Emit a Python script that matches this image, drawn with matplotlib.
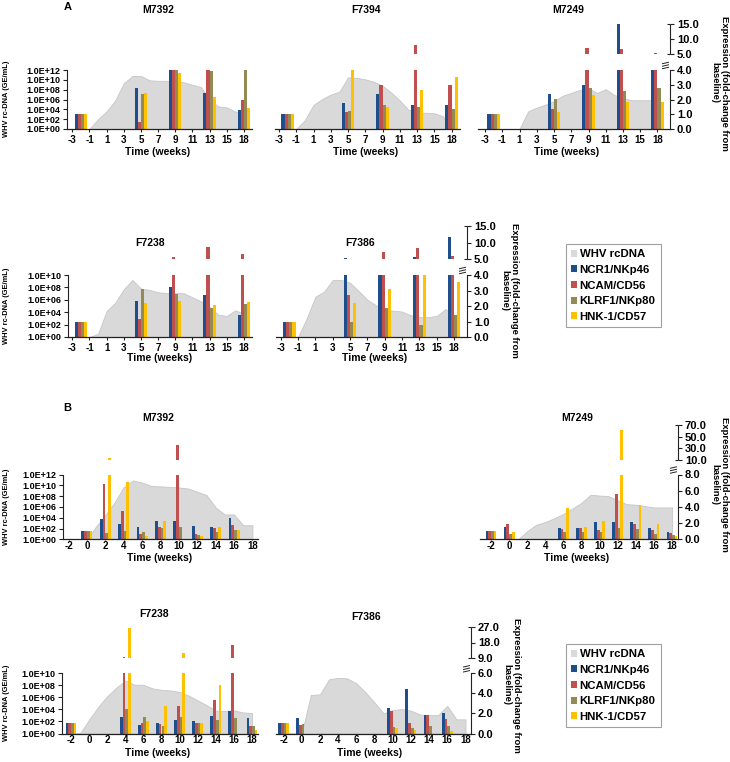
import matplotlib
matplotlib.use('Agg')
import matplotlib.pyplot as plt
from matplotlib.patches import Patch
from matplotlib.lines import Line2D
import numpy as np

plt.rcParams['font.family'] = ['Liberation Sans', 'DejaVu Sans']
plt.rcParams['font.weight'] = 'bold'

W, H = 730, 762
fig = plt.figure(figsize=(W / 100, H / 100), dpi=100)

# ---------------- colours ----------------
C_AREA = '#d9d9d9'
C_AREA_EDGE = '#c6c6c6'
C_NCR1 = '#1f4e8c'
C_NCAM = '#c0504d'
C_KLRF1 = '#948a54'
C_HNK1 = '#ffc000'
AX_COL = '#222222'

legend_labels = ['WHV rcDNA', 'NCR1/NKp46', 'NCAM/CD56', 'KLRF1/NKp80', 'HNK-1/CD57']

# ---------------- categories ----------------
cats_A = [-3, -2, -1, 0, 1, 2, 3, 4, 5, 6, 7, 8, 9, 10, 11, 12, 13, 14, 15, 16, 18]
cats_B = list(range(-2, 19))

# ---------------- Panel A data ----------------
# WHV rcDNA (log10 GE/mL) per category
A_M7392_rc = [0, 0, 0, 2.0, 3.6, 5.8, 9.3, 10.75, 10.8, 9.9, 9.8, 9.8, 9.7, 9.5, 9.0, 8.5, 6.0, 4.6, 4.4, 3.5, 3.0]
A_F7394_rc = [0, 0, 0, 1.8, 4.9, 6.1, 7.0, 7.6, 10.5, 10.4, 10.1, 9.6, 8.8, 7.4, 5.8, 3.9, 3.4, 3.3, 3.2, 2.6, 0]
A_M7249_rc = [0, 0, 0, 0, 0, 3.6, 4.35, 4.95, 5.7, 6.75, 7.35, 7.95, 8.25, 7.35, 8.1, 6.9, 6.3, 5.85, 5.85, 5.85, 5.85]
A_F7238_rc = [0, 0, 0, 0.5, 4.2, 5.5, 7.7, 9.2, 7.8, 7.6, 7.2, 7.1, 7.07, 7.05, 6.4, 5.75, 4.85, 3.6, 3.4, 4.3, 3.75]
A_F7386_rc = [0, 0, 0, 3.0, 6.5, 7.3, 9.2, 9.2, 8.75, 7.4, 6.0, 5.1, 4.3, 4.25, 4.1, 3.5, 3.2, 3.2, 3.4, 4.5, 3.5]

A_weeks = [-2, 5, 9, 13, 18]

A_M7392_NCR1 = [1.0, 2.8, 4.0, 2.45, 1.3]
A_M7392_NCAM = [1.0, 0.5, 4.0, 4.0, 2.0]
A_M7392_KLRF1 = [1.0, 2.35, 4.0, 3.9, 4.0]
A_M7392_HNK1 = [1.0, 2.45, 3.8, 2.15, 1.4]

A_F7394_NCR1 = [1.0, 1.75, 2.35, 1.65, 1.65]
A_F7394_NCAM = [1.0, 1.15, 2.95, 8.0, 3.0]
A_F7394_KLRF1 = [1.0, 1.25, 1.65, 1.5, 1.35]
A_F7394_HNK1 = [1.0, 4.0, 1.5, 2.65, 3.55]

A_M7249_NCR1 = [1.0, 2.4, 2.95, 15.0, 4.0]
A_M7249_NCAM = [1.0, 1.35, 7.2, 6.7, 5.5]
A_M7249_KLRF1 = [1.0, 2.05, 2.8, 2.55, 2.8]
A_M7249_HNK1 = [1.0, 1.15, 2.3, 1.85, 1.85]

A_F7238_NCR1 = [1.0, 2.3, 3.25, 2.7, 1.45]
A_F7238_NCAM = [1.0, 1.15, 5.8, 8.8, 6.6]
A_F7238_KLRF1 = [1.0, 3.1, 2.75, 1.85, 2.1]
A_F7238_HNK1 = [1.0, 2.2, 2.35, 2.05, 2.25]

A_F7386_NCR1 = [1.0, 5.4, 4.0, 5.6, 11.6]
A_F7386_NCAM = [1.0, 2.7, 7.3, 8.5, 6.0]
A_F7386_KLRF1 = [1.0, 1.0, 1.85, 0.75, 1.45]
A_F7386_HNK1 = [1.0, 2.2, 3.1, 4.0, 3.55]

# ---------------- Panel B data ----------------
B_M7392_rc = [0, 0, 0, 2.4, 4.5, 6.8, 9.7, 10.9, 10.5, 9.9, 9.8, 9.7, 9.6, 9.4, 8.8, 8.2, 5.9, 4.6, 4.6, 2.6, 2.6]
B_M7249_rc = [0, 0, 0, 0, 1.5, 2.7, 3.2, 3.9, 4.7, 5.7, 6.75, 8.25, 8.1, 8.0, 7.2, 6.5, 6.4, 6.15, 5.9, 5.9, 5.9]
B_F7238_rc = [0, 0, 2.3, 4.4, 6.2, 7.6, 8.8, 8.1, 8.1, 7.5, 7.25, 7.15, 6.9, 6.3, 5.5, 4.7, 3.8, 3.75, 3.85, 3.5, 3.4]
B_F7386_rc = [0, 0, 0, 6.4, 6.5, 9.0, 9.25, 9.15, 8.35, 6.85, 5.15, 3.35, 3.9, 4.05, 3.8, 3.15, 3.05, 3.05, 4.6, 2.35, 2.35]

B_M7392_weeks = [0, 2, 4, 6, 8, 10, 12, 14, 16]
B_M7392_NCR1 = [1.0, 2.45, 1.9, 1.5, 2.25, 2.25, 1.7, 1.55, 2.65]
B_M7392_NCAM = [1.0, 6.8, 3.5, 0.7, 1.5, 36.0, 0.7, 1.4, 1.75]
B_M7392_KLRF1 = [1.0, 0.75, 1.0, 0.9, 1.4, 1.55, 0.55, 0.95, 1.1]
B_M7392_HNK1 = [1.0, 13.0, 7.1, 0.4, 2.25, 0.0, 0.4, 1.5, 1.1]

B_M7249_weeks = [-2, 0, 6, 8, 10, 12, 14, 16, 18]
B_M7249_NCR1 = [1.0, 1.55, 1.45, 1.35, 2.15, 2.15, 2.15, 1.45, 0.85]
B_M7249_NCAM = [1.0, 1.85, 1.3, 1.45, 1.1, 5.65, 1.85, 1.1, 0.75]
B_M7249_KLRF1 = [1.0, 0.6, 0.85, 0.95, 0.95, 1.45, 1.25, 0.7, 0.55]
B_M7249_HNK1 = [1.0, 0.95, 3.9, 1.55, 2.3, 62.0, 4.25, 1.85, 0.4]

B_F7238_weeks = [-2, 4, 6, 8, 10, 12, 14, 16, 18]
B_F7238_NCR1 = [1.0, 1.6, 0.85, 1.05, 1.35, 1.2, 1.75, 2.25, 1.5]
B_F7238_NCAM = [1.0, 9.9, 1.05, 0.95, 2.7, 1.05, 3.35, 16.6, 0.7]
B_F7238_KLRF1 = [1.0, 2.45, 1.6, 0.7, 1.6, 1.05, 1.35, 1.5, 0.7]
B_F7238_HNK1 = [1.0, 26.0, 1.2, 2.7, 11.9, 1.05, 4.8, 0.0, 0.35]

B_F7386_weeks = [-2, 0, 10, 12, 14, 16]
B_F7386_NCR1 = [1.0, 1.55, 2.55, 4.4, 1.85, 2.05]
B_F7386_NCAM = [1.0, 0.85, 2.25, 1.05, 1.85, 1.45]
B_F7386_KLRF1 = [1.0, 0.95, 0.65, 0.5, 0.75, 0.75]
B_F7386_HNK1 = [1.0, 0.0, 0.5, 0.35, 0.0, 0.25]

# ---------------- row layouts (pixels) ----------------
ROW_A1 = dict(base=129, ltop=70, L=4, U0=5, Umax=15, p0=54.3, p1=24, logmax=12, top=16,
              low_ticks=[0, 1, 2, 3, 4], up_ticks=[5, 10, 15], xtl=2.5, xpad=1.5)
ROW_A2 = dict(base=337, ltop=275, L=4, U0=5, Umax=15, p0=259.3, p1=226, logmax=10, top=220,
              low_ticks=[0, 1, 2, 3, 4], up_ticks=[5, 10, 15], xtl=2.5, xpad=1.5)
ROW_B1 = dict(base=539.3, ltop=474.5, L=8, U0=10, Umax=70, p0=460, p1=425, logmax=12, top=420,
              low_ticks=[0, 2, 4, 6, 8], up_ticks=[10, 30, 50, 70], xtl=1.0, xpad=0.3)
ROW_B2 = dict(base=733.5, ltop=673.3, L=6, U0=9, Umax=27, p0=658.3, p1=626.7, logmax=10, top=620,
              low_ticks=[0, 2, 4, 6], up_ticks=[9, 18, 27], xtl=1.0, xpad=0.3)

COLORS = [C_NCR1, C_NCAM, C_KLRF1, C_HNK1]


def fig_line(xs, ys, lw=0.8, color=AX_COL):
    fig.add_artist(Line2D([x / W for x in xs], [1 - y / H for y in ys], lw=lw,
                          color=color, transform=fig.transFigure, solid_capstyle='butt'))


def make_panel(row, xl, xr, i0, sp, cats, rc, weeks, series, show_left, show_right, bw):
    base, ltop, L = row['base'], row['ltop'], row['L']
    U0, Umax, p0, p1 = row['U0'], row['Umax'], row['p0'], row['p1']
    k = (base - ltop) / L
    g = (ltop - p0) / k
    s = (p0 - p1) / (Umax - U0) / k

    def u(v):
        return v if v <= L else L + g + (v - U0) * s

    ytop = (base - row['top']) / k
    rect = [xl / W, 1 - base / H, (xr - xl) / W, (base - row['top']) / H]
    ax_a = fig.add_axes(rect)
    ax = fig.add_axes(rect)
    for a in (ax_a, ax):
        a.patch.set_visible(False)
        a.set_xlim((xl - i0) / sp, (xr - i0) / sp)
        for sname in ('top', 'right', 'left', 'bottom'):
            a.spines[sname].set_visible(False)

    # --- area (log scale) ---
    ax_a.set_yscale('log')
    ax_a.set_ylim(1, 10 ** (row['logmax'] * ytop / L))
    x = np.arange(len(cats))
    ax_a.fill_between(x, 1, 10 ** np.array(rc, dtype=float), facecolor=C_AREA,
                      edgecolor=C_AREA_EDGE, lw=0.6)
    ax_a.tick_params(axis='x', bottom=False, labelbottom=False)
    ax_a.minorticks_off()
    if show_left:
        ax_a.spines['left'].set_visible(True)
        ax_a.spines['left'].set_bounds(1, 10 ** row['logmax'])
        ax_a.spines['left'].set_color(AX_COL)
        ax_a.spines['left'].set_linewidth(0.8)
        ex = list(range(0, row['logmax'] + 1, 2))
        ax_a.set_yticks([10.0 ** e for e in ex])
        ax_a.set_yticklabels(['1.0E+%02d' % e for e in ex])
        ax_a.tick_params(axis='y', which='major', direction='out', length=3, width=0.8,
                         color=AX_COL, labelsize=6.5, pad=1.5)
        ax_a.tick_params(axis='y', which='minor', left=False)
    else:
        ax_a.tick_params(axis='y', which='both', left=False, labelleft=False)

    # --- bars ---
    ax.set_ylim(0, ytop)
    for j, (vals, col) in enumerate(zip(series, COLORS)):
        pos = [cats.index(w) + (j - 1.5) * bw for w in weeks]
        low = [min(v, L) for v in vals]
        ax.bar(pos, low, width=bw, color=col, lw=0)
        up_pos = [p for p, v in zip(pos, vals) if v > U0]
        up_h = [u(v) - u(U0) for v in vals if v > U0]
        up_b = [u(U0)] * len(up_h)
        if up_pos:
            ax.bar(up_pos, up_h, bottom=up_b, width=bw, color=col, lw=0)

    ax.spines['bottom'].set_visible(True)
    ax.spines['bottom'].set_color(AX_COL)
    ax.spines['bottom'].set_linewidth(0.9)
    ax.set_xticks(range(0, len(cats), 2))
    ax.set_xticklabels([str(c) for c in cats[::2]])
    ax.tick_params(axis='x', direction='out', length=row['xtl'], width=0.8, color=AX_COL,
                   labelsize=7, pad=row['xpad'])

    if show_right:
        ax.yaxis.tick_right()
        ax.spines['right'].set_visible(True)
        ax.spines['right'].set_bounds(0, L)
        ax.spines['right'].set_color(AX_COL)
        ax.spines['right'].set_linewidth(0.8)
        tv = row['low_ticks'] + row['up_ticks']
        ax.set_yticks([u(v) for v in tv])
        ax.set_yticklabels(['%.1f' % v for v in tv])
        ax.tick_params(axis='y', direction='out', length=3, width=0.8, color=AX_COL,
                       labelsize=8, pad=2)
        # upper bracket
        fig_line([xr, xr], [p0, p1])
        fig_line([xr - 3, xr], [p0, p0])
        fig_line([xr - 3, xr], [p1, p1])
        # break mark
        for d in (2.0, 4.5, 7.0):
            fig_line([xr - 8, xr - 1], [ltop - d + 0.8, ltop - d - 0.8], lw=0.7)
    else:
        ax.tick_params(axis='y', which='both', left=False, right=False,
                       labelleft=False, labelright=False)
    return ax


# ---------------- Panel A, row 1 ----------------
make_panel(ROW_A1, 67, 252, 72.3, 8.58, cats_A, A_M7392_rc, A_weeks,
           [A_M7392_NCR1, A_M7392_NCAM, A_M7392_KLRF1, A_M7392_HNK1], True, False, 0.36)
make_panel(ROW_A1, 275, 460, 279, 8.63, cats_A, A_F7394_rc, A_weeks,
           [A_F7394_NCR1, A_F7394_NCAM, A_F7394_KLRF1, A_F7394_HNK1], False, False, 0.36)
make_panel(ROW_A1, 478, 670, 485, 8.625, cats_A, A_M7249_rc, A_weeks,
           [A_M7249_NCR1, A_M7249_NCAM, A_M7249_KLRF1, A_M7249_HNK1], False, True, 0.36)
# ---------------- Panel A, row 2 ----------------
make_panel(ROW_A2, 68, 252, 72.3, 8.58, cats_A, A_F7238_rc, A_weeks,
           [A_F7238_NCR1, A_F7238_NCAM, A_F7238_KLRF1, A_F7238_HNK1], True, False, 0.36)
make_panel(ROW_A2, 276, 467, 280.7, 8.67, cats_A, A_F7386_rc, A_weeks,
           [A_F7386_NCR1, A_F7386_NCAM, A_F7386_KLRF1, A_F7386_HNK1], False, True, 0.36)
# ---------------- Panel B, row 1 ----------------
make_panel(ROW_B1, 63, 258, 68.6, 9.19, cats_B, B_M7392_rc, B_M7392_weeks,
           [B_M7392_NCR1, B_M7392_NCAM, B_M7392_KLRF1, B_M7392_HNK1], True, False, 0.3)
make_panel(ROW_B1, 480, 678, 491, 9.05, cats_B, B_M7249_rc, B_M7249_weeks,
           [B_M7249_NCR1, B_M7249_NCAM, B_M7249_KLRF1, B_M7249_HNK1], False, True, 0.3)
# ---------------- Panel B, row 2 ----------------
make_panel(ROW_B2, 62, 258, 71, 9.05, cats_B, B_F7238_rc, B_F7238_weeks,
           [B_F7238_NCR1, B_F7238_NCAM, B_F7238_KLRF1, B_F7238_HNK1], True, False, 0.3)
make_panel(ROW_B2, 276, 471, 283.5, 9.1, cats_B, B_F7386_rc, B_F7386_weeks,
           [B_F7386_NCR1, B_F7386_NCAM, B_F7386_KLRF1, B_F7386_HNK1], False, True, 0.3)


def ftext(x, y, s, **kw):
    fig.text(x / W, 1 - y / H, s, **kw)


# titles
for (x, y, s) in [(158, 10, 'M7392'), (366, 10, 'F7394'), (568, 10, 'M7249'),
                  (150, 243, 'F7238'), (360, 243, 'F7386'),
                  (158, 418, 'M7392'), (577, 418, 'M7249'),
                  (154, 614, 'F7238'), (366, 617, 'F7386')]:
    ftext(x, y, s, ha='center', va='center', fontsize=7.5, fontweight='bold')

# x-axis titles
for (x, y) in [(158, 152), (366, 152), (567, 152), (160, 358), (375, 358),
               (160, 558), (577, 558), (158, 753), (370, 753)]:
    ftext(x, y, 'Time (weeks)', ha='center', va='center', fontsize=7.5, fontweight='bold')

# panel letters
ftext(68, 7, 'A', ha='center', va='center', fontsize=8, fontweight='bold')
ftext(67, 408, 'B', ha='center', va='center', fontsize=8, fontweight='bold')

# left axis titles
for y in (99, 306, 507, 703):
    ftext(7, y, 'WHV rc-DNA (GE/mL)', ha='center', va='center', rotation=90,
          fontsize=5.4, fontweight='bold')

# right axis titles
for (x, y) in [(720, 83), (510, 290), (720, 484), (512, 685)]:
    ftext(x, y, 'Expression (fold-change from\nbaseline)', ha='center', va='center',
          rotation=270, fontsize=6.8, fontweight='bold', multialignment='center',
          linespacing=1.05)

# legends
handles = [Patch(facecolor=c, edgecolor='none') for c in
           [C_AREA, C_NCR1, C_NCAM, C_KLRF1, C_HNK1]]
for ytop in (244, 644):
    leg = fig.legend(handles, legend_labels, loc='upper left',
                     bbox_to_anchor=(566 / W, 1 - ytop / H), frameon=True, fancybox=False,
                     edgecolor='#888888', handlelength=0.55, handleheight=0.55,
                     handletextpad=0.2, borderpad=0.45, labelspacing=0.5,
                     borderaxespad=0, prop=dict(size=8.2, weight='bold'))
    leg.get_frame().set_linewidth(0.8)

fig.savefig('out.png', dpi=100)
